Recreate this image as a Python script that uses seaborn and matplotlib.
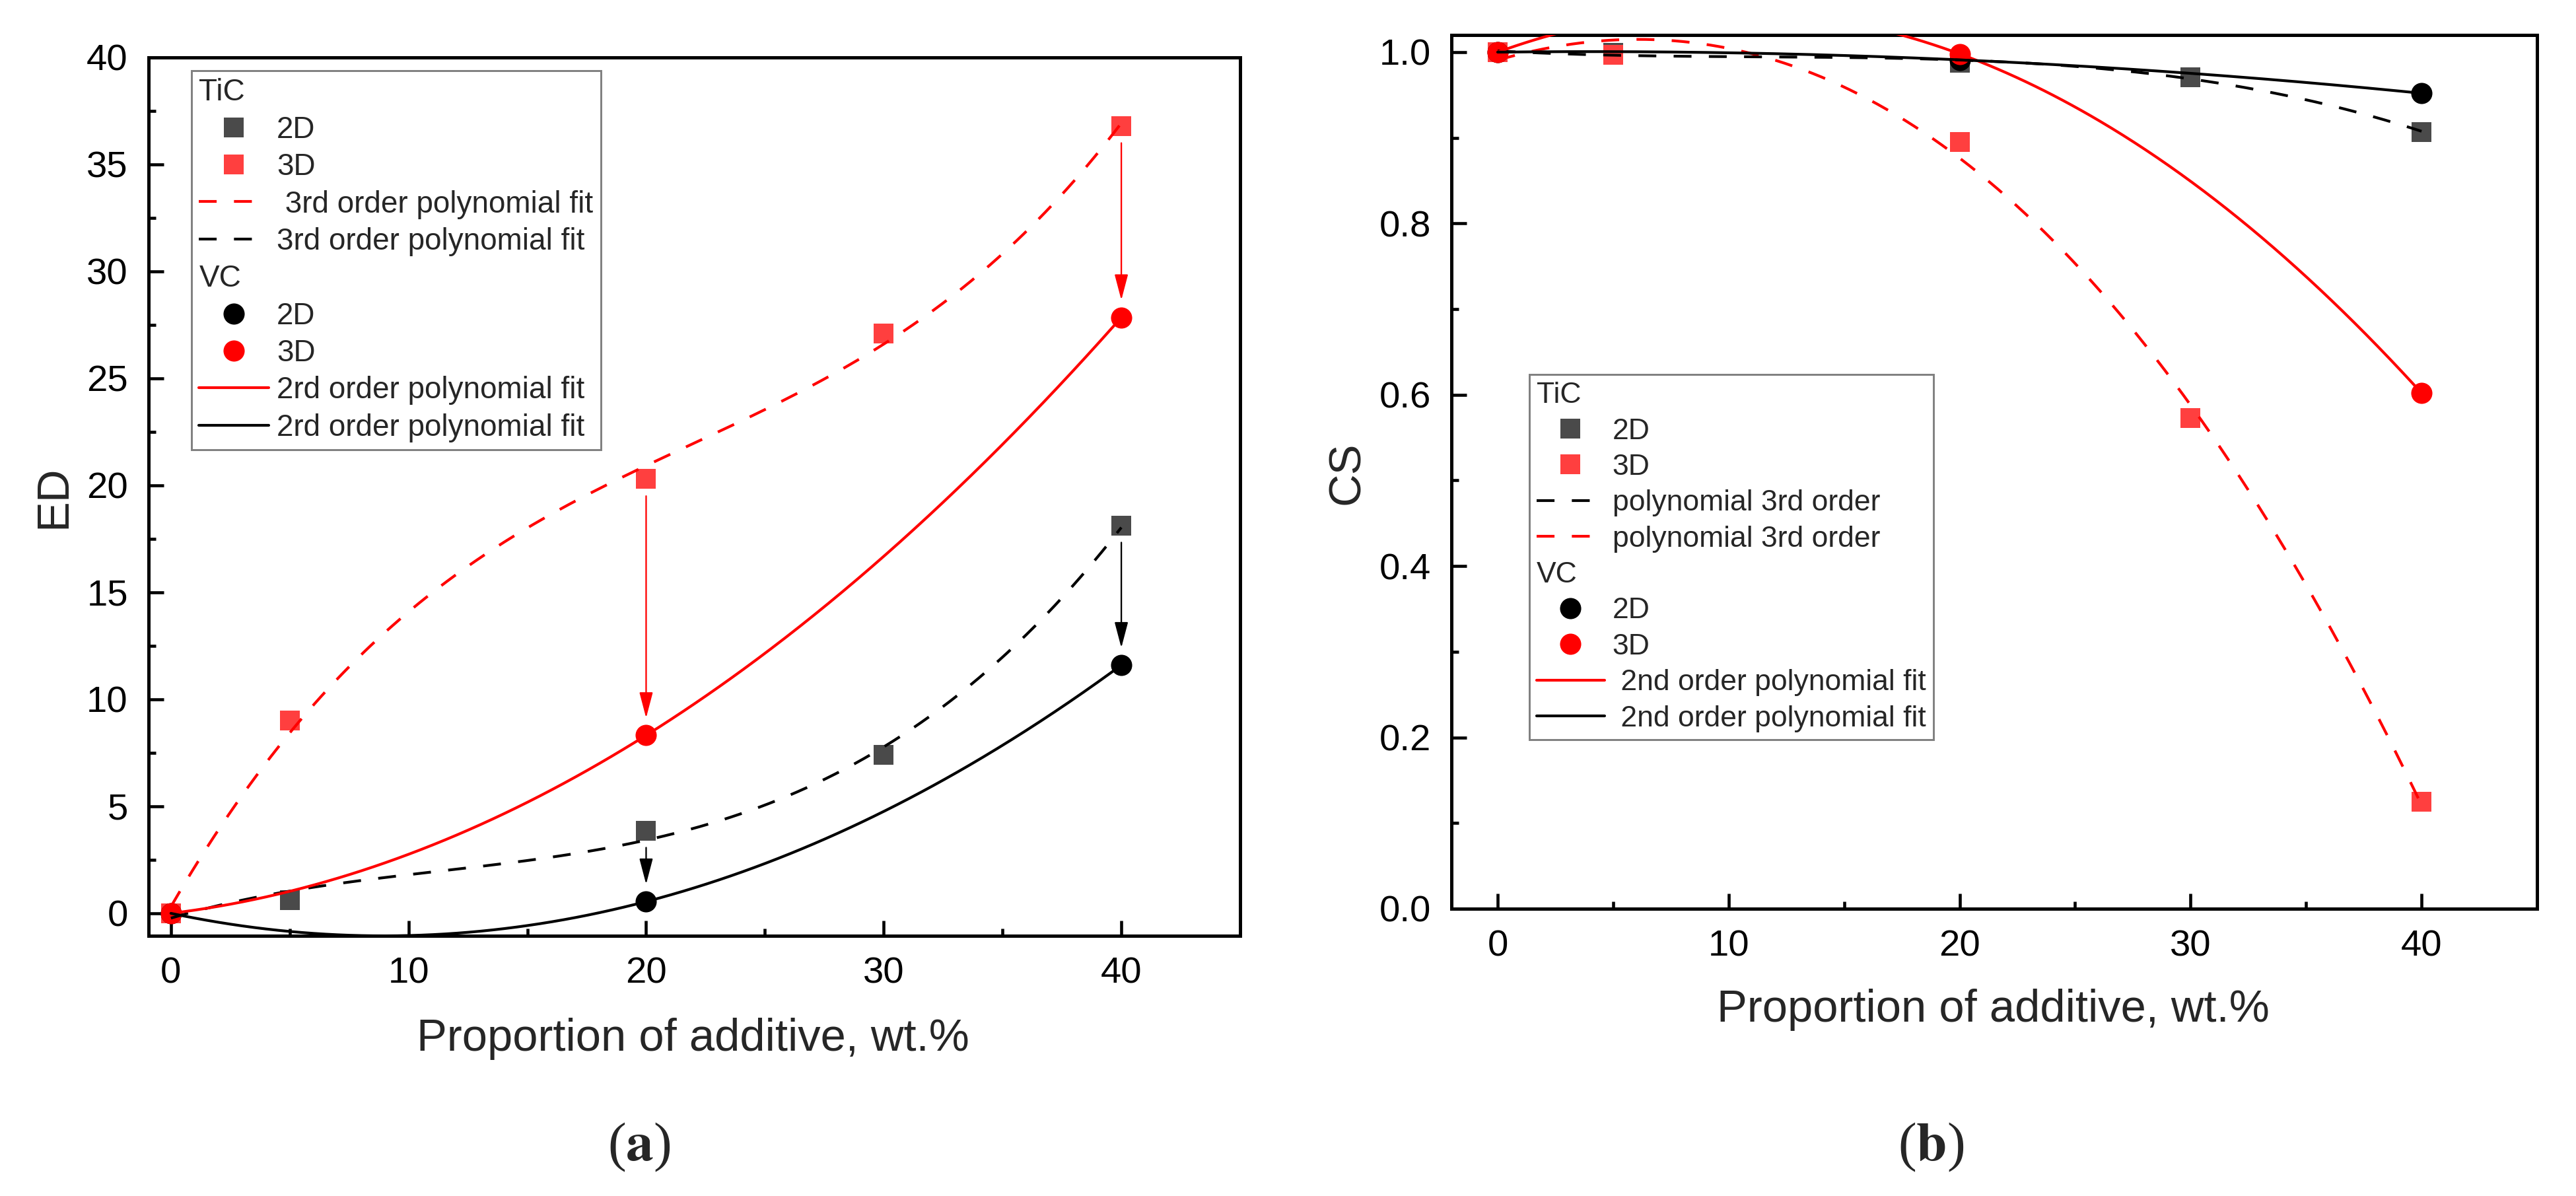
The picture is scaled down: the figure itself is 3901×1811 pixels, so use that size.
import numpy as np
import pandas as pd
import matplotlib
matplotlib.use("Agg")
import matplotlib.pyplot as plt
from matplotlib.lines import Line2D
from matplotlib.ticker import FixedLocator, FormatStrFormatter
import seaborn as sns

# ---------------- data: panel (a) ED ----------------
tic_x = [0, 5, 20, 30, 40]
ed_tic_2d = [0.0, 0.63, 3.87, 7.42, 18.13]
ed_tic_3d = [0.0, 9.0, 20.3, 27.1, 36.8]
vc_x = [0, 20, 40]
ed_vc_2d = [0.0, 0.55, 11.6]
ed_vc_3d = [0.0, 8.32, 27.85]

# ---------------- data: panel (b) CS ----------------
cs_tic_2d = [1.0, 0.999, 0.988, 0.971, 0.907]
cs_tic_3d = [1.0, 0.997, 0.895, 0.573, 0.125]
cs_vc_2d = [1.0, 0.991, 0.952]
cs_vc_3d = [1.0, 0.998, 0.602]

arrow_x = [20, 40]

x_label = "Proportion of additive, wt.%"
legend_a = ["TiC", "2D", "3D", " 3rd order polynomial fit", "3rd order polynomial fit",
            "VC", "2D", "3D", "2rd order polynomial fit", "2rd order polynomial fit"]
legend_b = ["TiC", "2D", "3D", "polynomial 3rd order", "polynomial 3rd order",
            "VC", "2D", "3D", " 2nd order polynomial fit", " 2nd order polynomial fit"]
headers = ["TiC", "VC"]

# ---------------- style ----------------
sns.set_style("ticks")
plt.rcParams["font.family"] = ["Liberation Sans", "DejaVu Sans"]
plt.rcParams["mathtext.fontset"] = "stix"
plt.rcParams["axes.linewidth"] = 1.2

GRAY = "#4a4a4a"
LRED = "#ff3f3f"
RED = "#ff0000"
BLACK = "#000000"
DASH = (0, (6.5, 6.3))
LW = 1.0
SQ = 7.4
CI = 7.7

W, H, DPI = 3901, 1811, 300
fig = plt.figure(figsize=(W / DPI, H / DPI), dpi=DPI)
fig.patch.set_facecolor("white")

def fpos(l, r, t, b):
    return [l / W, 1 - b / H, (r - l) / W, (b - t) / H]

ax1 = fig.add_axes(fpos(225, 1878, 87, 1417))
ax2 = fig.add_axes(fpos(2198, 3842, 53, 1376))


def fit_curve(x, y, deg):
    c = np.polyfit(x, y, deg)
    xs = np.linspace(min(x), max(x), 400)
    return xs, np.polyval(c, xs)


def draw_panel(ax, t2, t3, v2, v3):
    sns.scatterplot(x=tic_x, y=t2, ax=ax, marker="s", s=SQ ** 2, color=GRAY, linewidth=0, zorder=3)
    sns.scatterplot(x=tic_x, y=t3, ax=ax, marker="s", s=SQ ** 2, color=LRED, linewidth=0, zorder=3)
    sns.scatterplot(x=vc_x, y=v2, ax=ax, marker="o", s=CI ** 2, color=BLACK, linewidth=0, zorder=3)
    sns.scatterplot(x=vc_x, y=v3, ax=ax, marker="o", s=CI ** 2, color=RED, linewidth=0, zorder=3)
    for (x, y, deg, col, ls) in [(tic_x, t3, 3, RED, DASH), (tic_x, t2, 3, BLACK, DASH),
                                 (vc_x, v3, 2, RED, "-"), (vc_x, v2, 2, BLACK, "-")]:
        xs, ys = fit_curve(x, y, deg)
        sns.lineplot(x=xs, y=ys, ax=ax, color=col, linestyle=ls, linewidth=LW,
                     errorbar=None, zorder=4)


def style_axes(ax):
    for sp in ax.spines.values():
        sp.set_visible(True)
        sp.set_linewidth(1.2)
        sp.set_color("black")
    ax.tick_params(axis="both", which="both", direction="in", top=False, right=False,
                   width=1.1, colors="black", labelsize=13.5, pad=7.5)
    ax.tick_params(which="major", length=5.5)
    ax.tick_params(which="minor", length=2.7)
    ax.xaxis.set_major_locator(FixedLocator([0, 10, 20, 30, 40]))
    ax.xaxis.set_minor_locator(FixedLocator([5, 15, 25, 35]))


def header_legend(ax, handles, labels, anchor, fs, spacing):
    leg = ax.legend(handles, labels, loc="upper left", bbox_to_anchor=anchor,
                    bbox_transform=ax.transAxes, borderaxespad=0, fontsize=fs,
                    frameon=True, fancybox=False, framealpha=1, edgecolor="#7f7f7f",
                    borderpad=0.25, labelspacing=spacing, handlelength=2.3,
                    handletextpad=0.27, handleheight=0.7)
    leg.get_frame().set_linewidth(0.7)
    for col in leg._legend_handle_box.get_children():
        for row in col.get_children():
            da, ta = row.get_children()
            if ta.get_text() in headers:
                da.width = 0
                row.sep = 0
    return leg


def handles_for(order_dash):
    hdr = Line2D([], [], linestyle="none", marker=None)
    sq2 = Line2D([], [], linestyle="none", marker="s", markersize=SQ, color=GRAY, markeredgewidth=0)
    sq3 = Line2D([], [], linestyle="none", marker="s", markersize=SQ, color=LRED, markeredgewidth=0)
    ci2 = Line2D([], [], linestyle="none", marker="o", markersize=CI, color=BLACK, markeredgewidth=0)
    ci3 = Line2D([], [], linestyle="none", marker="o", markersize=CI, color=RED, markeredgewidth=0)
    dr = Line2D([], [], linestyle=DASH, linewidth=LW, color=RED)
    dk = Line2D([], [], linestyle=DASH, linewidth=LW, color=BLACK)
    sr = Line2D([], [], linestyle="-", linewidth=LW, color=RED)
    sk = Line2D([], [], linestyle="-", linewidth=LW, color=BLACK)
    dashes = [dr, dk] if order_dash == "rk" else [dk, dr]
    return [hdr, sq2, sq3] + dashes + [hdr, ci2, ci3, sr, sk]


# ---------------- panel (a) ----------------
draw_panel(ax1, ed_tic_2d, ed_tic_3d, ed_vc_2d, ed_vc_3d)
style_axes(ax1)
ax1.set_xlim(-0.94, 45)
ax1.set_ylim(-1.05, 40)
ax1.yaxis.set_major_locator(FixedLocator(list(range(0, 41, 5))))
ax1.yaxis.set_minor_locator(FixedLocator([2.5 + 5 * i for i in range(8)]))

for xa in arrow_x:
    it = tic_x.index(xa)
    iv = vc_x.index(xa)
    for tic_vals, vc_vals, col in [(ed_tic_3d, ed_vc_3d, RED), (ed_tic_2d, ed_vc_2d, BLACK)]:
        ax1.annotate("", xy=(xa, vc_vals[iv]), xytext=(xa, tic_vals[it]),
                     arrowprops=dict(arrowstyle="-|>,head_length=0.8,head_width=0.21",
                                     color=col, lw=0.55, shrinkA=6.2, shrinkB=6.3,
                                     mutation_scale=10),
                     zorder=5)

ax1.set_xlabel(x_label, fontsize=16.5)
ax1.set_ylabel("ED", fontsize=16.5)
ax1.xaxis.set_label_coords(0.499, -0.117)
ax1.xaxis.label.set_va("center")
ax1.yaxis.set_label_coords(-0.087, 0.50)
ax1.yaxis.label.set_va("center")
header_legend(ax1, handles_for("rk"), legend_a, (0.0393, 0.985), 11, 0.27)

# ---------------- panel (b) ----------------
draw_panel(ax2, cs_tic_2d, cs_tic_3d, cs_vc_2d, cs_vc_3d)
style_axes(ax2)
ax2.set_xlim(-2.0, 45)
ax2.set_ylim(0, 1.02)
ax2.yaxis.set_major_locator(FixedLocator([0.0, 0.2, 0.4, 0.6, 0.8, 1.0]))
ax2.yaxis.set_minor_locator(FixedLocator([0.1, 0.3, 0.5, 0.7, 0.9]))
ax2.yaxis.set_major_formatter(FormatStrFormatter("%.1f"))
ax2.set_xlabel(x_label, fontsize=16.5)
ax2.set_ylabel("CS", fontsize=16.5)
ax2.xaxis.set_label_coords(0.499, -0.116)
ax2.xaxis.label.set_va("center")
ax2.yaxis.set_label_coords(-0.096, 0.499)
ax2.yaxis.label.set_va("center")
header_legend(ax2, handles_for("kr"), legend_b, (0.0718, 0.6115), 10.7, 0.3)

# ---------------- panel letters ----------------
for xc, letter in [(968, "a"), (2924, "b")]:
    fig.text(xc / W, 1 - 1737 / H, "(" + r"$\mathbf{" + letter + "}$" + ")",
             ha="center", va="center", fontsize=20,
             family=["Liberation Serif", "DejaVu Serif"])

fig.savefig("out.png", dpi=DPI, facecolor="white")
